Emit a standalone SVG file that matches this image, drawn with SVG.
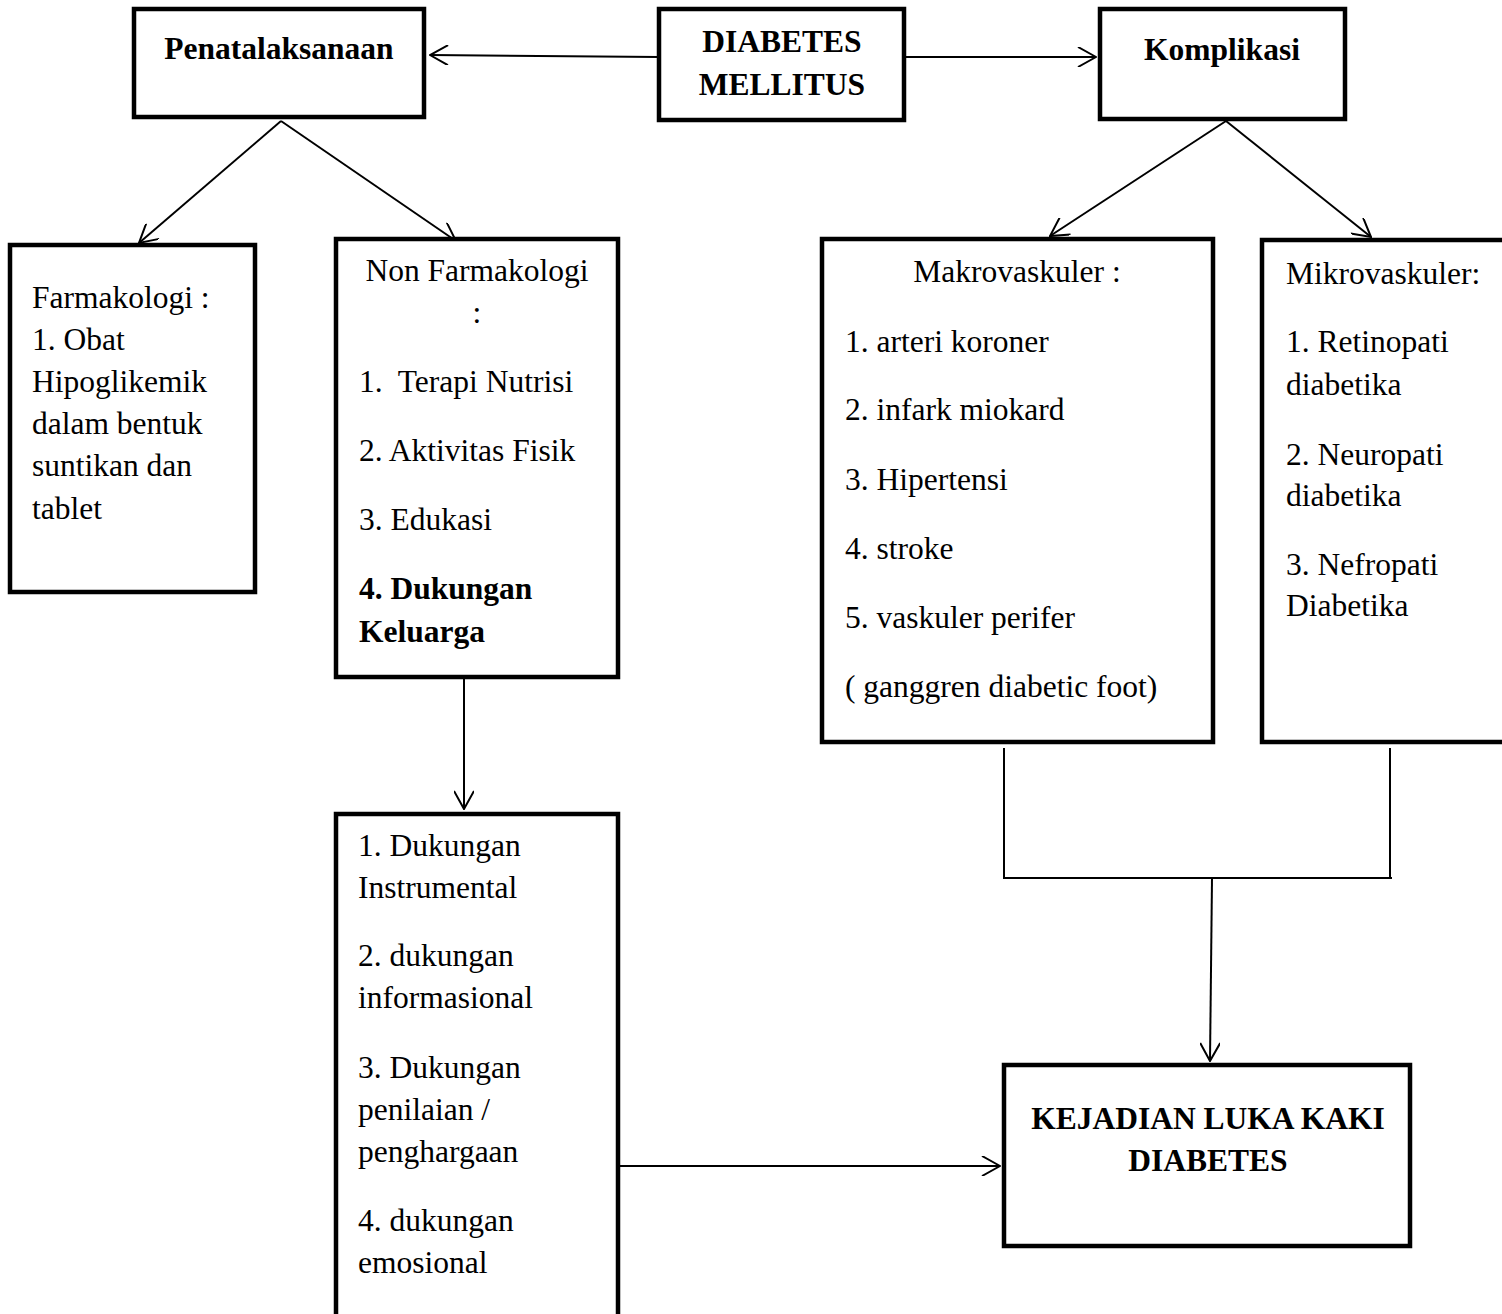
<svg xmlns="http://www.w3.org/2000/svg" width="1502" height="1314" viewBox="0 0 1502 1314">
<style>
.box{fill:#fff;stroke:#000;stroke-width:4.5}
.t{font-family:"Liberation Serif","Times New Roman",serif;font-size:31.5px;fill:#000}
.b{font-weight:bold}
.c{text-anchor:middle}
.ln{stroke:#000;stroke-width:2;fill:none}
</style>
<defs>
<marker id="ah" viewBox="0 0 20 20" markerWidth="20" markerHeight="20" refX="19" refY="10" orient="auto" markerUnits="userSpaceOnUse">
<path d="M1,0 L19,10 L1,20" fill="none" stroke="#000" stroke-width="2"/>
</marker>
</defs>
<rect width="1502" height="1314" fill="#fff"/>
<g id="connectors">
<line class="ln" x1="659" y1="57" x2="430" y2="55" marker-end="url(#ah)"/>
<line class="ln" x1="905" y1="57" x2="1096" y2="57" marker-end="url(#ah)"/>
<line class="ln" x1="281" y1="121" x2="139" y2="243" marker-end="url(#ah)"/>
<line class="ln" x1="281" y1="121" x2="456" y2="241" marker-end="url(#ah)"/>
<line class="ln" x1="1226" y1="121" x2="1050" y2="236" marker-end="url(#ah)"/>
<line class="ln" x1="1226" y1="121" x2="1371" y2="237" marker-end="url(#ah)"/>
<line class="ln" x1="464" y1="679" x2="464" y2="809" marker-end="url(#ah)"/>
<polyline class="ln" points="1004,748 1004,878 1392,878"/>
<line class="ln" x1="1390" y1="748" x2="1390" y2="878"/>
<line class="ln" x1="1212" y1="878" x2="1210" y2="1061" marker-end="url(#ah)"/>
<line class="ln" x1="618" y1="1166" x2="1000" y2="1166" marker-end="url(#ah)"/>
</g>
<g id="diabetes">
<rect class="box" x="659" y="9" width="245" height="111"/>
<text class="t b c" x="782" y="52">DIABETES</text>
<text class="t b c" x="782" y="95">MELLITUS</text>
</g>
<g id="penatalaksanaan">
<rect class="box" x="134" y="9" width="290" height="108"/>
<text class="t b c" x="279" y="59">Penatalaksanaan</text>
</g>
<g id="komplikasi">
<rect class="box" x="1100" y="9" width="245" height="110"/>
<text class="t b c" x="1222" y="60">Komplikasi</text>
</g>
<g id="farmakologi">
<rect class="box" x="10" y="245" width="245" height="347"/>
<text class="t" x="32" y="308">Farmakologi :</text>
<text class="t" x="32" y="350">1. Obat</text>
<text class="t" x="32" y="392">Hipoglikemik</text>
<text class="t" x="32" y="434">dalam bentuk</text>
<text class="t" x="32" y="476">suntikan dan</text>
<text class="t" x="32" y="519">tablet</text>
</g>
<g id="nonfarmakologi">
<rect class="box" x="336" y="239" width="282" height="438"/>
<text class="t c" x="477" y="281">Non Farmakologi</text>
<text class="t c" x="477" y="323">:</text>
<text class="t" x="359" y="392" xml:space="preserve">1.  Terapi Nutrisi</text>
<text class="t" x="359" y="461">2. Aktivitas Fisik</text>
<text class="t" x="359" y="530">3. Edukasi</text>
<text class="t b" x="359" y="599">4. Dukungan</text>
<text class="t b" x="359" y="642">Keluarga</text>
</g>
<g id="dukungan">
<rect class="box" x="336" y="814" width="282" height="520"/>
<text class="t" x="358" y="856">1. Dukungan</text>
<text class="t" x="358" y="898">Instrumental</text>
<text class="t" x="358" y="966">2. dukungan</text>
<text class="t" x="358" y="1008">informasional</text>
<text class="t" x="358" y="1078">3. Dukungan</text>
<text class="t" x="358" y="1120">penilaian /</text>
<text class="t" x="358" y="1162">penghargaan</text>
<text class="t" x="358" y="1231">4. dukungan</text>
<text class="t" x="358" y="1273">emosional</text>
</g>
<g id="makrovaskuler">
<rect class="box" x="822" y="239" width="391" height="503"/>
<text class="t c" x="1017" y="282">Makrovaskuler :</text>
<text class="t" x="845" y="352">1. arteri koroner</text>
<text class="t" x="845" y="420">2. infark miokard</text>
<text class="t" x="845" y="490">3. Hipertensi</text>
<text class="t" x="845" y="559">4. stroke</text>
<text class="t" x="845" y="628">5. vaskuler perifer</text>
<text class="t" x="845" y="697">( ganggren diabetic foot)</text>
</g>
<g id="mikrovaskuler">
<rect class="box" x="1262" y="240" width="246" height="502"/>
<text class="t" x="1286" y="284">Mikrovaskuler:</text>
<text class="t" x="1286" y="352">1. Retinopati</text>
<text class="t" x="1286" y="395">diabetika</text>
<text class="t" x="1286" y="465">2. Neuropati</text>
<text class="t" x="1286" y="506">diabetika</text>
<text class="t" x="1286" y="575">3. Nefropati</text>
<text class="t" x="1286" y="616">Diabetika</text>
</g>
<g id="kejadian">
<rect class="box" x="1004" y="1065" width="406" height="181"/>
<text class="t b c" x="1208" y="1129">KEJADIAN LUKA KAKI</text>
<text class="t b c" x="1208" y="1171">DIABETES</text>
</g>
</svg>
